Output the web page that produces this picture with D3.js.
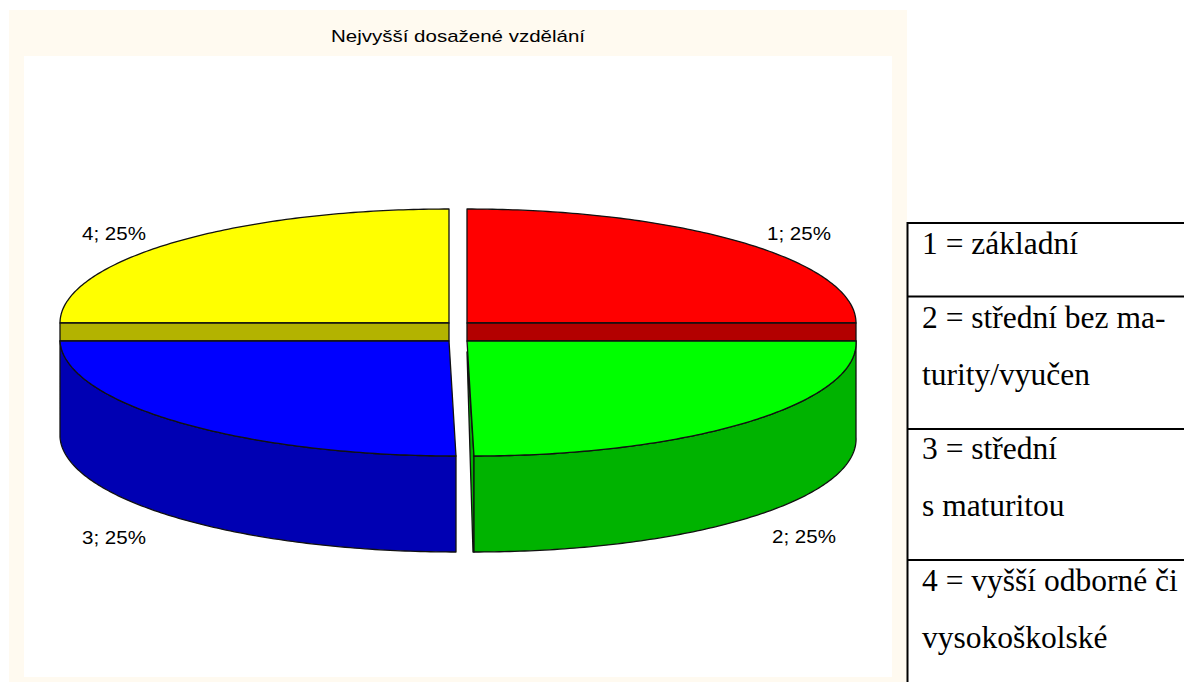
<!DOCTYPE html>
<html><head><meta charset="utf-8">
<script src="https://cdn.jsdelivr.net/npm/d3@7/dist/d3.min.js"></script>
<style>html,body{margin:0;padding:0;background:#fff}svg{display:block}</style>
</head><body><svg id="c" width="1184" height="682"></svg>
<script>
const chartTitle = "Nejvyšší dosažené vzdělání";
const categories = ["1", "2", "3", "4"];
const values = [25, 25, 25, 25];
const topColors = ["#ff0000", "#00ff00", "#0000ff", "#ffff00"];
const sideColors = ["#b30000", "#00b300", "#0000b3", "#b3b300"];
const legendRows = [
  {lines: ["1 = základní"], top: 223, bottom: 296},
  {lines: ["2 = střední bez ma-", "turity/vyučen"], top: 296.5, bottom: 429},
  {lines: ["3 = střední", "s maturitou"], top: 429, bottom: 560},
  {lines: ["4 = vyšší odborné či", "vysokoškolské"], top: 560, bottom: 682}
];

const svg = d3.select("#c");
svg.append("rect").attr("x",9).attr("y",10).attr("width",898).attr("height",672).attr("fill","#fffaf0");
svg.append("rect").attr("x",24).attr("y",56).attr("width",868).attr("height",621).attr("fill","#fff");
svg.append("text").attr("x",331).attr("y",42)
  .attr("font-family","Liberation Sans").attr("font-size",17).attr("textLength",254).attr("lengthAdjust","spacingAndGlyphs").attr("fill","#000").text(chartTitle);

const pie = d3.pie().sort(null).startAngle(0).endAngle(2*Math.PI);
const arcs = pie(values);

// per-slice placement of the exploded, tilted pie
const rx = 389, ryBack = 114, ryFront = 115, wall = 96, band = 18, skew = 7;
const centers = [
  {x:467, y:323}, {x:467, y:341}, {x:449, y:341}, {x:449, y:323}
];
// d3 angles are clockwise from 12 o'clock
function pt(i, a, dy=0){
  const c = centers[i], front = Math.cos(a) < 0;
  const sx = Math.sin(a), cy = -Math.cos(a);
  return [c.x + rx*sx + (front ? skew*cy : 0), c.y + (front ? ryFront : ryBack)*cy + dy];
}
const line = d3.line();
function arcPts(i, a0, a1, dy=0){
  return d3.range(0, 121).map(k => pt(i, a0 + (a1-a0)*k/120, dy));
}
const stroke = {stroke:"#111", "stroke-width":1.3, "stroke-linejoin":"round"};
function draw(points, fill, close=true){
  const p = svg.append("path").attr("d", line(points) + (close?"Z":"")).attr("fill", fill);
  Object.entries(stroke).forEach(([k,v]) => p.attr(k,v));
}

const [s1, s2, s3, s4] = arcs;

// back slices: top face, then the cut-face band running along the diameter
[[0,s1],[3,s4]].forEach(([i,s]) => {
  const c = centers[i];
  draw([[c.x, c.y], ...arcPts(i, s.startAngle, s.endAngle)], topColors[i]);
  const edge = i === 0 ? pt(i, s.endAngle) : pt(i, s.startAngle);
  draw([[c.x, c.y],[edge[0], edge[1]],[edge[0], edge[1]+band],[c.x, c.y+band]], sideColors[i]);
});

// front slices: outer wall, inner wall sliver, top face
{
  const i = 2, s = s3, c = centers[i];
  const a = arcPts(i, s.startAngle, s.endAngle);
  const b = arcPts(i, s.endAngle, s.startAngle, wall);
  draw([...a, ...b], sideColors[i]);
  draw([[c.x, c.y], ...a], topColors[i]);
}
{
  const i = 1, s = s2, c = centers[i];
  const a = arcPts(i, s.startAngle, s.endAngle);
  const b = arcPts(i, s.endAngle, s.startAngle, wall);
  const tip = a[a.length-1];
  draw([[c.x, c.y+band*0.6], tip, [tip[0], tip[1]+wall], [tip[0]-1, tip[1]+wall]], sideColors[i]);
  draw([...a, ...b], sideColors[i]);
  draw([[c.x, c.y], ...a], topColors[i]);
}

// labels
const labelPos = [[767,240],[772,543],[82,544],[82,240]];
arcs.forEach((s,i) => {
  svg.append("text").attr("x",labelPos[i][0]).attr("y",labelPos[i][1])
    .attr("font-family","Liberation Sans").attr("font-size",18).attr("textLength",64).attr("lengthAdjust","spacingAndGlyphs").attr("fill","#000")
    .text(categories[i] + "; " + d3.format(".0f")(s.value) + "%");
});

// legend table
const tableX = 907.5;
svg.append("line").attr("x1",tableX).attr("x2",tableX).attr("y1",222).attr("y2",682).attr("stroke","#000").attr("stroke-width",2);
const baselines = [[254],[328,385],[459,516],[591,648]];
legendRows.forEach((r,i) => {
  svg.append("line").attr("x1",tableX).attr("x2",1184).attr("y1",r.top).attr("y2",r.top).attr("stroke","#000").attr("stroke-width",2);
  r.lines.forEach((t,j) => {
    svg.append("text").attr("x",922).attr("y",baselines[i][j]).attr("font-family","Liberation Serif")
      .attr("font-size",31.5).attr("fill","#000").text(t);
  });
});
</script></body></html>
